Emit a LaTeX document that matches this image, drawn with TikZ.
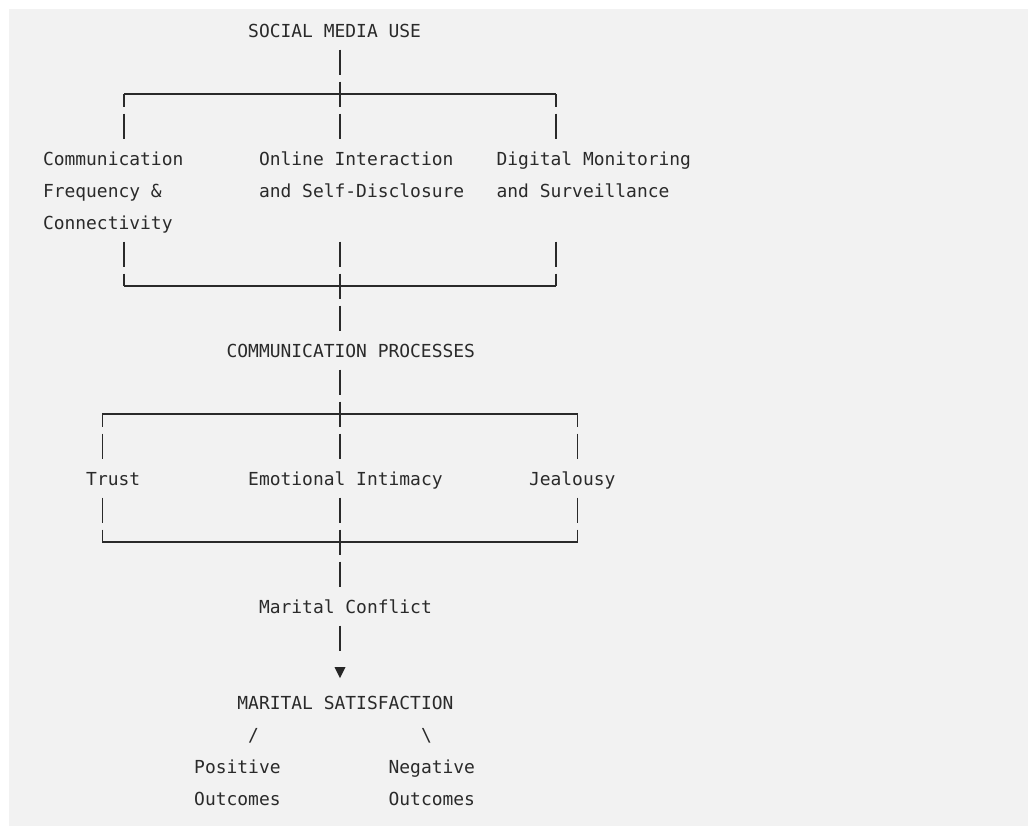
\documentclass[tikz,border=0pt]{standalone}
\usepackage{fontspec}
\setmonofont{DejaVu Sans Mono}
\definecolor{ink}{HTML}{2A2A2A}
\definecolor{bg}{HTML}{F2F2F2}
% character grid: column c starts at 43+10.8c, row r is centred at 30+32r
\newcommand\colx[1]{43+10.8*(#1)}
\newcommand\rowy[1]{30+32*(#1)}
\newcommand\myvbar[2]{\draw[ln] ({\colx{#1}+5.4},{\rowy{#2}-12.5}) -- ({\colx{#1}+5.4},{\rowy{#2}+12.5});}
\newcommand\myvdn[2]{\draw[ln] ({\colx{#1}+5.4},{\rowy{#2}}) -- ({\colx{#1}+5.4},{\rowy{#2}+12.5});}
\newcommand\myvup[2]{\draw[ln] ({\colx{#1}+5.4},{\rowy{#2}-12.5}) -- ({\colx{#1}+5.4},{\rowy{#2}});}
\newcommand\myhbar[3]{\draw[ln] ({\colx{#1}+5.4},{\rowy{#3}}) -- ({\colx{#2}+5.4},{\rowy{#3}});}
\begin{document}
\begin{tikzpicture}[x=1pt,y=-1pt,
  txt/.style={anchor=base west,inner sep=0pt,outer sep=0pt,
    font=\ttfamily\fontsize{17.94}{20}\selectfont,text=ink},
  ln/.style={draw=ink,line width=1.1pt}]
\useasboundingbox (0,0) rectangle (1031,825);
\fill[bg] (9,9) rectangle (1028,830);

% texts
\node[txt] (smu) at ({\colx{19}},{\rowy{0}+7}) {SOCIAL MEDIA USE};
\node[txt] (cfa) at ({\colx{0}},{\rowy{4}+7}) {Communication};
\node[txt] (cfb) at ({\colx{0}},{\rowy{5}+7}) {Frequency \&};
\node[txt] (cfc) at ({\colx{0}},{\rowy{6}+7}) {Connectivity};
\node[txt] (oia) at ({\colx{20}},{\rowy{4}+7}) {Online Interaction};
\node[txt] (oib) at ({\colx{20}},{\rowy{5}+7}) {and Self-Disclosure};
\node[txt] (dma) at ({\colx{42}},{\rowy{4}+7}) {Digital Monitoring};
\node[txt] (dmb) at ({\colx{42}},{\rowy{5}+7}) {and Surveillance};
\node[txt] (cp) at ({\colx{17}},{\rowy{10}+7}) {COMMUNICATION PROCESSES};
\node[txt] (tr) at ({\colx{4}},{\rowy{14}+7}) {Trust};
\node[txt] (ei) at ({\colx{19}},{\rowy{14}+7}) {Emotional Intimacy};
\node[txt] (je) at ({\colx{45}},{\rowy{14}+7}) {Jealousy};
\node[txt] (mc) at ({\colx{20}},{\rowy{18}+7}) {Marital Conflict};
\node[txt] (ms) at ({\colx{18}},{\rowy{21}+7}) {MARITAL SATISFACTION};
\node[txt] (sl) at ({\colx{19}},{\rowy{22}+7}) {/};
\node[txt] (bs) at ({\colx{35}},{\rowy{22}+7}) {\textbackslash};
\node[txt] (poa) at ({\colx{14}},{\rowy{23}+7}) {Positive};
\node[txt] (pob) at ({\colx{14}},{\rowy{24}+7}) {Outcomes};
\node[txt] (nea) at ({\colx{32}},{\rowy{23}+7}) {Negative};
\node[txt] (neb) at ({\colx{32}},{\rowy{24}+7}) {Outcomes};

% first bracket
\myvbar{27}{1}
\myhbar{7}{47}{2} \myvdn{7}{2} \myvbar{27}{2} \myvdn{47}{2}
\myvbar{7}{3} \myvbar{27}{3} \myvbar{47}{3}
\myvbar{7}{7} \myvbar{27}{7} \myvbar{47}{7}
\myhbar{7}{47}{8} \myvup{7}{8} \myvbar{27}{8} \myvup{47}{8}
\myvbar{27}{9}
% second bracket
\myvbar{27}{11}
\myhbar{5}{49}{12} \myvdn{5}{12} \myvbar{27}{12} \myvdn{49}{12}
\myvbar{5}{13} \myvbar{27}{13} \myvbar{49}{13}
\myvbar{5}{15} \myvbar{27}{15} \myvbar{49}{15}
\myhbar{5}{49}{16} \myvup{5}{16} \myvbar{27}{16} \myvup{49}{16}
\myvbar{27}{17}
% to satisfaction
\myvbar{27}{19}
\fill[black!85] (334.5,667) -- (345.5,667) -- (340,678) -- cycle;
\end{tikzpicture}
\end{document}
